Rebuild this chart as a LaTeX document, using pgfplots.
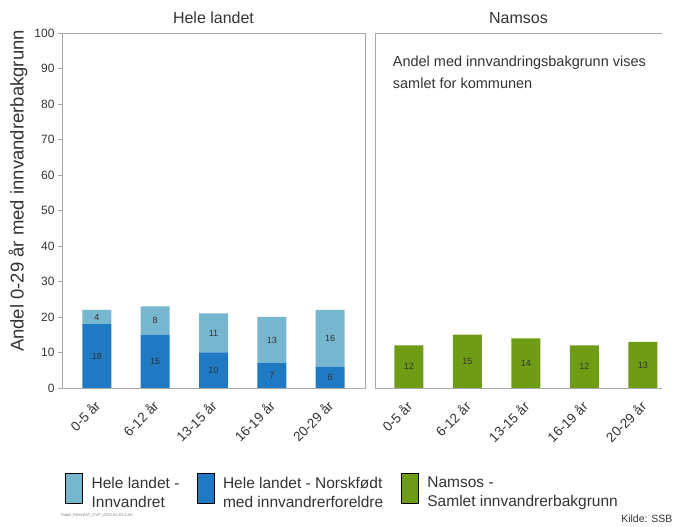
\documentclass[border=0pt]{standalone}
\usepackage{pgfplots}
\pgfplotsset{compat=1.18}
\usepackage{pgfplotstable}
\usepackage{fontspec}
\setmainfont{Liberation Sans}
\definecolor{lblue}{HTML}{76B6CF}
\definecolor{dblue}{HTML}{1F79C3}
\definecolor{sgreen}{HTML}{6E9C14}
\definecolor{axgray}{HTML}{A8A8A8}
\definecolor{txt}{HTML}{333333}

\pgfplotstableread{
x nf inn
0 18 4
1 15 8
2 10 11
3 7 13
4 6 16
}\hele
\pgfplotstableread{
x tot
0 12
1 15
2 14
3 12
4 13
}\namsos

\pgfplotsset{
  panel/.style={
    /pgf/number format/assume math mode=true,
    scale only axis, height=355pt, ymin=0, ymax=100,
    bar width=29pt,
    xtick={0,...,4},
    xticklabels={0-5 år,6-12 år,13-15 år,16-19 år,20-29 år},
    xticklabel style={xshift=3pt, yshift=-9pt, rotate=45, anchor=east,
      font=\fontsize{13.5}{16}\selectfont, text=txt},
    x tick style={draw=none},
    axis line style={axgray},
    title style={font=\fontsize{16}{18}\selectfont, text=txt, yshift=0pt},
    nodes near coords,
    every node near coord/.append style={font=\fontsize{9}{10}\selectfont,
      text=black!80, anchor=center,
      shift={(axis direction cs:0,-\pgfplotspointmeta/2)}},
  },
}

\begin{document}
\begin{tikzpicture}
\path (0pt,0pt) rectangle (676pt,524pt);

\begin{axis}[panel,
  at={(62pt,136pt)}, anchor=south west, width=303pt,
  xmin=-0.6, xmax=4.6,
  ybar stacked,
  title={Hele landet},
  ytick={0,10,...,100},
  yticklabel style={font=\fontsize{12}{14}\selectfont, text=txt},
  y tick style={axgray},
  major tick length=4pt,
  tick align=outside, tick pos=left,
  ylabel={Andel 0-29 år med innvandrerbakgrunn},
  ylabel style={at={(axis description cs:-0.145,0.555)}, anchor=center,
    font=\fontsize{18.5}{20}\selectfont, text=txt},
  legend columns=3,
  legend style={at={(0,-0.33)}, anchor=south west, draw=none, fill=none,
    font=\fontsize{15.5}{19}\selectfont, text=txt,
    /tikz/every odd column/.append style={column sep=7pt},
    /tikz/every even column/.append style={column sep=0pt}},
  legend image code/.code={\fill[#1] (0pt,-15pt) rectangle (17pt,15pt);},
]
\addplot[fill=dblue, draw=none, forget plot, point meta=explicit] table[x=x, y=nf, meta=nf] {\hele};
\addplot[fill=lblue, draw=none, forget plot, point meta=explicit] table[x=x, y=inn, meta=inn] {\hele};
\addlegendimage{fill=lblue}
\addlegendentry{\parbox[c]{103pt}{Hele landet -\\Innvandret}}
\addlegendimage{fill=dblue}
\addlegendentry{\parbox[c]{176pt}{Hele landet - Norskfødt\\med innvandrerforeldre}}
\addlegendimage{fill=sgreen}
\addlegendentry{\parbox[c]{215pt}{Namsos -\\Samlet innvandrerbakgrunn}}
\end{axis}

\begin{axis}[panel,
  at={(375pt,136pt)}, anchor=south west, width=287pt,
  xmin=-0.581, xmax=4.325,
  ybar,
  title={Namsos},
  ytick=\empty,
  axis line style={draw=none},
  after end axis/.code={
    \draw[axgray] (rel axis cs:1,0) -- (rel axis cs:0,0) -- (rel axis cs:0,1) -- (rel axis cs:1,1);
    \node[anchor=north west, align=left, font=\fontsize{14.5}{22}\selectfont, text=txt]
      at (rel axis cs:0.05,0.945) {Andel med innvandringsbakgrunn vises\\samlet for kommunen};
  },
]
\addplot[fill=sgreen, draw=none, bar shift=0pt, point meta=explicit] table[x=x, y=tot, meta=tot] {\namsos};
\end{axis}

\node[anchor=west, font=\fontsize{4}{5}\selectfont, text=gray] at (57pt,9pt) {Tabell\_INNVKAT\_OVF\_2020-01-01-CAK};
\node[anchor=east, font=\fontsize{10.5}{12}\selectfont, text=txt] at (676pt,5pt) {Kilde: SSB};
\end{tikzpicture}
\end{document}
